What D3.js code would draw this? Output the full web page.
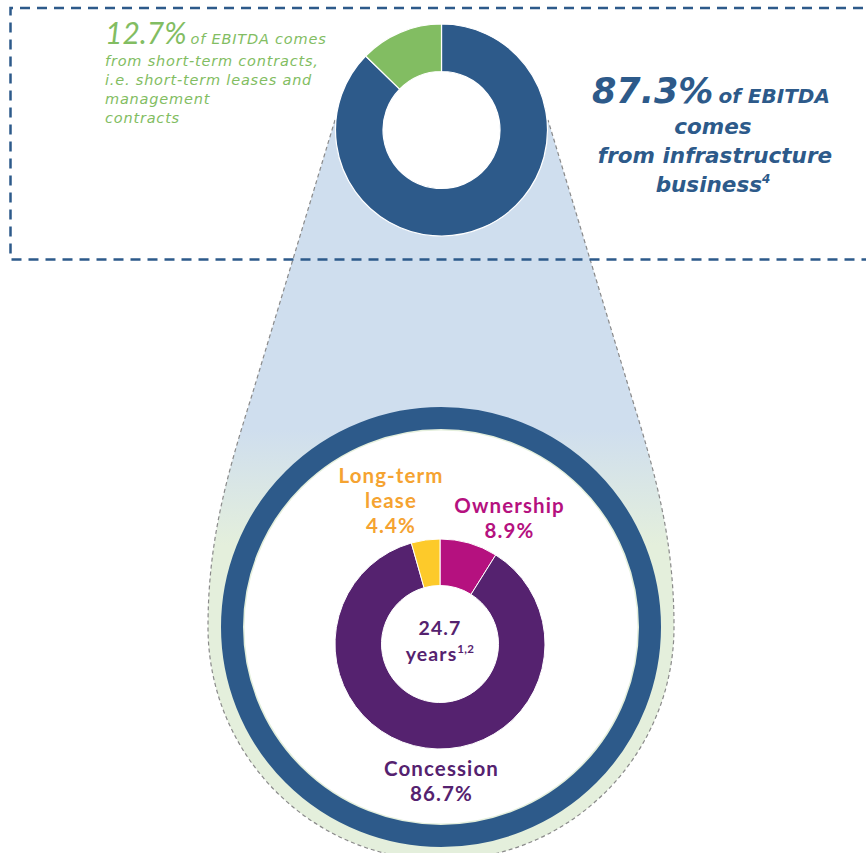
<!DOCTYPE html>
<html>
<head>
<meta charset="utf-8">
<script src="https://cdn.jsdelivr.net/npm/d3@7"></script>
<style>
  html, body { margin: 0; padding: 0; background: #ffffff; }
  svg { display: block; }
</style>
</head>
<body>
<svg id="chart" width="866" height="853"></svg>
<script>
// EBITDA split: infrastructure business vs short-term contracts
const ebitdaLabels = ["Infrastructure business", "Short-term contracts"];
const ebitdaValues = [87.3, 12.7];
const ebitdaColors = ["#2d5a8a", "#82bd62"];

// Infrastructure business by contract type
const contractLabels = ["Ownership", "Concession", "Long-term lease"];
const contractValues = [8.9, 86.7, 4.4];
const contractColors = ["#b5117f", "#55226f", "#fdca2a"];
const contractTextColors = ["#b5117f", "#55226f", "#f5a331"];

const avgYears = "24.7";

const svg = d3.select("#chart");
const defs = svg.append("defs");

// Headline donut and zoomed circle geometry
const headDonut = { cx: 441.5, cy: 130, r: 106, ir: 58.5 };
const big = { cx: 441, cy: 627, ringOuter: 220, ringInner: 198, halo: 233 };
const inner = { cx: 440, cy: 644, r: 105, ir: 58.5 };

// Gradient for the magnifier cone: blue on top fading to pale green
const grad = defs.append("linearGradient")
  .attr("id", "coneFill")
  .attr("gradientUnits", "userSpaceOnUse")
  .attr("x1", 0).attr("y1", 120).attr("x2", 0).attr("y2", 853);
grad.append("stop").attr("offset", (430 - 120) / 733).attr("stop-color", "#cfdeee");
grad.append("stop").attr("offset", (545 - 120) / 733).attr("stop-color", "#e4efdc");
grad.append("stop").attr("offset", 1).attr("stop-color", "#e4efdc");

// Magnifier cone outline
const path = d3.path();
const lt = [335, 120], rt = [548, 120];
const lm = [252, 395], rm = [631, 395];
const hl = [big.cx - big.halo, big.cy], hr = [big.cx + big.halo, big.cy];
path.moveTo(lt[0], lt[1]);
path.lineTo(lm[0], lm[1]);
path.bezierCurveTo(227, 475, hl[0], 540, hl[0], hl[1]);
path.arc(big.cx, big.cy, big.halo, Math.PI, 0, true);
path.bezierCurveTo(hr[0], 540, 656, 475, rm[0], rm[1]);
path.lineTo(rt[0], rt[1]);
const outline = path.toString();

svg.append("path")
  .attr("d", outline + "Z")
  .attr("fill", "url(#coneFill)")
  .attr("stroke", "none");

svg.append("path")
  .attr("d", outline)
  .attr("fill", "none")
  .attr("stroke", "#8a8a8a")
  .attr("stroke-width", 1.2)
  .attr("stroke-dasharray", "4,3");

// Zoomed circle: white face, pale edge, blue ring
svg.append("circle")
  .attr("cx", big.cx).attr("cy", big.cy).attr("r", big.ringInner)
  .attr("fill", "#ffffff")
  .attr("stroke", "#e4efdc").attr("stroke-width", 3);
svg.append("circle")
  .attr("cx", big.cx).attr("cy", big.cy)
  .attr("r", (big.ringOuter + big.ringInner) / 2)
  .attr("fill", "none")
  .attr("stroke", "#2d5a8a")
  .attr("stroke-width", big.ringOuter - big.ringInner);

// Inner donut: contract types
const pie = d3.pie().sort(null).value(d => d);
const innerArc = d3.arc().innerRadius(inner.ir).outerRadius(inner.r);
svg.append("g")
  .attr("transform", `translate(${inner.cx},${inner.cy})`)
  .selectAll("path")
  .data(pie(contractValues))
  .join("path")
  .attr("d", innerArc)
  .attr("fill", (d, i) => contractColors[i])
  .attr("stroke", "#ffffff")
  .attr("stroke-width", 1);

// Contract type labels, one text per line
const labelFont = "Lato, 'Open Sans', sans-serif";
const labelPos = [
  { x: 509.5, y: 513, lines: [contractLabels[0]] },
  { x: 441.5, y: 776, lines: [contractLabels[1]] },
  { x: 391, y: 483, lines: ["Long-term", "lease"] }
];
const labels = svg.append("g")
  .attr("font-family", labelFont)
  .attr("font-weight", 700)
  .attr("font-size", 20.5)
  .attr("letter-spacing", 1.1)
  .attr("text-anchor", "middle");
contractValues.forEach((v, i) => {
  const p = labelPos[i];
  const lines = p.lines.concat([d3.format(".1f")(v) + "%"]);
  lines.forEach((ln, j) => {
    labels.append("text")
      .attr("x", p.x)
      .attr("y", p.y + j * 24.8)
      .attr("fill", contractTextColors[i])
      .text(ln);
  });
});

// Centre: average remaining term
labels.append("text")
  .attr("x", inner.cx).attr("y", 635)
  .attr("fill", "#55226f")
  .attr("font-size", 19.5)
  .text(avgYears);
const yrs = labels.append("text")
  .attr("x", inner.cx).attr("y", 661)
  .attr("fill", "#55226f")
  .attr("font-size", 19.5);
yrs.append("tspan").text("years");
yrs.append("tspan").attr("font-size", 11.5).attr("dy", -8)
  .attr("letter-spacing", 0.3).text("1,2");

// Dashed frame around the headline donut
svg.append("path")
  .attr("d", "M 880 8 L 10.5 8 L 10.5 259.5 L 880 259.5")
  .attr("fill", "none")
  .attr("stroke", "#2d5a8a")
  .attr("stroke-width", 2.5)
  .attr("stroke-dasharray", "10,7");

// Headline donut: EBITDA split, with a white hole
svg.append("circle")
  .attr("cx", headDonut.cx).attr("cy", headDonut.cy).attr("r", headDonut.ir)
  .attr("fill", "#ffffff");
const headArc = d3.arc().innerRadius(headDonut.ir).outerRadius(headDonut.r);
svg.append("g")
  .attr("transform", `translate(${headDonut.cx},${headDonut.cy})`)
  .selectAll("path")
  .data(pie(ebitdaValues))
  .join("path")
  .attr("d", headArc)
  .attr("fill", (d, i) => ebitdaColors[i])
  .attr("stroke", "#ffffff")
  .attr("stroke-width", 1.2);

// Short-term contracts note (green, left)
const green = svg.append("g")
  .attr("font-family", "'DejaVu Sans', sans-serif")
  .attr("font-style", "italic")
  .attr("fill", ebitdaColors[1]);
const g1 = green.append("text").attr("x", 105).attr("y", 44);
g1.append("tspan")
  .attr("font-family", "Lato, sans-serif")
  .attr("font-size", 30).attr("font-weight", 400)
  .text(d3.format(".1f")(ebitdaValues[1]) + "%");
g1.append("tspan").attr("font-size", 14.5).attr("letter-spacing", 0.8)
  .attr("dx", 4).text("of EBITDA comes");
["from short-term contracts,", "i.e. short-term leases and", "management", "contracts"]
  .forEach((ln, i) => {
    green.append("text")
      .attr("x", 105).attr("y", 66 + i * 19)
      .attr("font-size", 14.5)
      .attr("letter-spacing", 0.8)
      .text(ln);
  });

// Infrastructure note (blue, right)
const blue = svg.append("g")
  .attr("font-family", "'DejaVu Sans', sans-serif")
  .attr("font-style", "italic")
  .attr("font-weight", 700)
  .attr("fill", ebitdaColors[0]);
const b1 = blue.append("text").attr("x", 592).attr("y", 103);
b1.append("tspan").attr("font-size", 35).text(d3.format(".1f")(ebitdaValues[0]) + "%");
b1.append("tspan").attr("font-size", 20).attr("dx", 5).text("of EBITDA");
blue.append("text").attr("x", 713).attr("y", 134).attr("font-size", 21.5)
  .attr("text-anchor", "middle").text("comes");
blue.append("text").attr("x", 715).attr("y", 163).attr("font-size", 21.5)
  .attr("text-anchor", "middle").text("from infrastructure");
const b4 = blue.append("text").attr("x", 713).attr("y", 192).attr("font-size", 21.5)
  .attr("text-anchor", "middle");
b4.append("tspan").text("business");
b4.append("tspan").attr("font-size", 12).attr("dy", -9).text("4");
</script>
</body>
</html>
